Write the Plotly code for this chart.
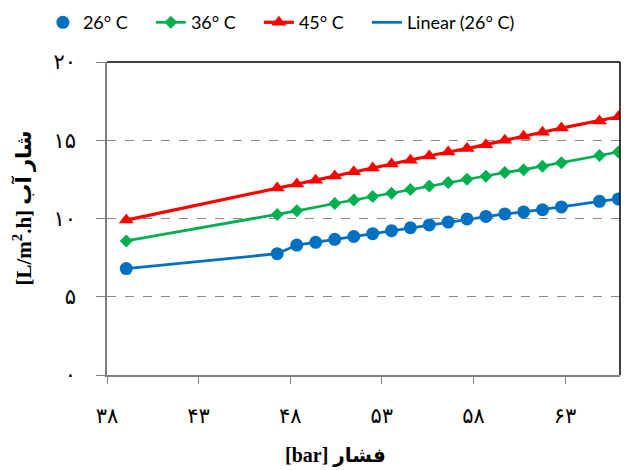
import plotly.graph_objects as go

# Pressure [bar]
pressure = [39.05, 47.29, 48.36, 49.39, 50.43, 51.47, 52.50, 53.53, 54.56, 55.59,
            56.62, 57.65, 58.68, 59.71, 60.74, 61.77, 62.80, 64.88, 65.91]

flux_26 = [6.8, 7.75, 8.3, 8.48, 8.67, 8.85, 9.03, 9.22, 9.41, 9.59,
           9.77, 9.97, 10.13, 10.29, 10.42, 10.56, 10.74, 11.1, 11.25]

# 36 C series has no point at 49.39
pressure_36 = [39.05, 47.29, 48.36, 50.43, 51.47, 52.50, 53.53, 54.56, 55.59,
               56.62, 57.65, 58.68, 59.71, 60.74, 61.77, 62.80, 64.88, 65.91]
flux_36 = [8.57, 10.25, 10.49, 10.96, 11.18, 11.4, 11.62, 11.85, 12.07,
           12.3, 12.51, 12.7, 12.94, 13.12, 13.34, 13.57, 14.02, 14.25]

flux_45 = [9.9, 11.95, 12.2, 12.45, 12.72, 12.98, 13.23, 13.49, 13.72, 13.99,
           14.25, 14.47, 14.72, 15.0, 15.25, 15.51, 15.78, 16.23, 16.5]

x_ticks = [38, 43, 48, 53, 58, 63]
x_tick_labels = ["۳۸", "۴۳", "۴۸", "۵۳", "۵۸", "۶۳"]
y_ticks = [0, 5, 10, 15, 20]
y_tick_labels = ["۰", "۵", "۱۰", "۱۵", "۲۰"]

BLUE = "#0070C0"
GREEN = "#00B050"
RED = "#FF0000"
SERIF = "Liberation Serif, DejaVu Serif, DejaVu Sans, serif"
LEG = "Lato, Open Sans, sans-serif"

fig = go.Figure()

fig.add_trace(go.Scatter(
    x=pressure, y=flux_26, mode="lines", name="Linear (26° C)",
    line=dict(color=BLUE, width=2.75), legendrank=4, showlegend=True))
fig.add_trace(go.Scatter(
    x=pressure_36, y=flux_36, mode="lines+markers", name="36° C",
    line=dict(color=GREEN, width=2.75),
    marker=dict(symbol="diamond", size=10, color=GREEN), legendrank=2))
fig.add_trace(go.Scatter(
    x=pressure, y=flux_45, mode="lines+markers", name="45° C",
    line=dict(color=RED, width=3.25),
    marker=dict(symbol="triangle-up", size=13, color=RED), legendrank=3))
fig.add_trace(go.Scatter(
    x=pressure, y=flux_26, mode="markers", name="26° C",
    marker=dict(symbol="circle", size=13, color=BLUE), legendrank=1))
# empty legend entry so the last visible entry's text is not clipped
fig.add_trace(go.Scatter(
    x=[None], y=[None], mode="lines", name=" ",
    line=dict(color="rgba(0,0,0,0)", width=0), legendrank=5,
    hoverinfo="skip"))

fig.update_layout(
    width=630, height=470,
    margin=dict(l=99, r=18, t=54, b=103, autoexpand=False),
    paper_bgcolor="white", plot_bgcolor="white",
    showlegend=True,
    legend=dict(orientation="h", x=-0.125, y=1.185, xanchor="left", yanchor="top",
                font=dict(family=LEG, size=18, color="black"),
                traceorder="normal", itemwidth=30,
                entrywidth=63, entrywidthmode="pixels",
                bgcolor="rgba(0,0,0,0)"),
    xaxis=dict(range=[38, 66], tickvals=x_ticks, ticktext=x_tick_labels,
               showgrid=False, zeroline=False, automargin=False,
               showline=True, linecolor="#808080", linewidth=1.5,
               ticks="outside", ticklen=7, tickcolor="#808080",
               ticklabelstandoff=14,
               tickfont=dict(family=SERIF, size=21, color="black")),
    yaxis=dict(range=[0, 20], tickvals=y_ticks, ticktext=y_tick_labels,
               showgrid=True, gridcolor="#8a8a8a", griddash="dash", gridwidth=1,
               zeroline=False, automargin=False,
               showline=True, linecolor="#808080", linewidth=1.5,
               ticks="outside", ticklen=9, tickcolor="#808080",
               ticklabelstandoff=16,
               tickfont=dict(family=SERIF, size=21, color="black")),
    shapes=[
        dict(type="line", xref="paper", yref="paper", x0=0, x1=1, y0=1, y1=1,
             line=dict(color="black", width=1.5)),
        dict(type="line", xref="paper", yref="paper", x0=1, x1=1, y0=0, y1=1,
             line=dict(color="black", width=1.5)),
    ],
    annotations=[
        dict(text="<b>[bar] فشار</b>", xref="paper", yref="paper",
             x=0.446, y=-0.257, xanchor="center", yanchor="middle",
             showarrow=False, font=dict(family=SERIF, size=20, color="black")),
        dict(text="<b>[L/m<sup>2</sup>.h] شار آب</b>", xref="paper", yref="paper",
             x=-0.165, y=0.533, xanchor="center", yanchor="middle", textangle=-90,
             showarrow=False, font=dict(family=SERIF, size=21, color="black")),
    ],
)

fig.write_html("out.html")
